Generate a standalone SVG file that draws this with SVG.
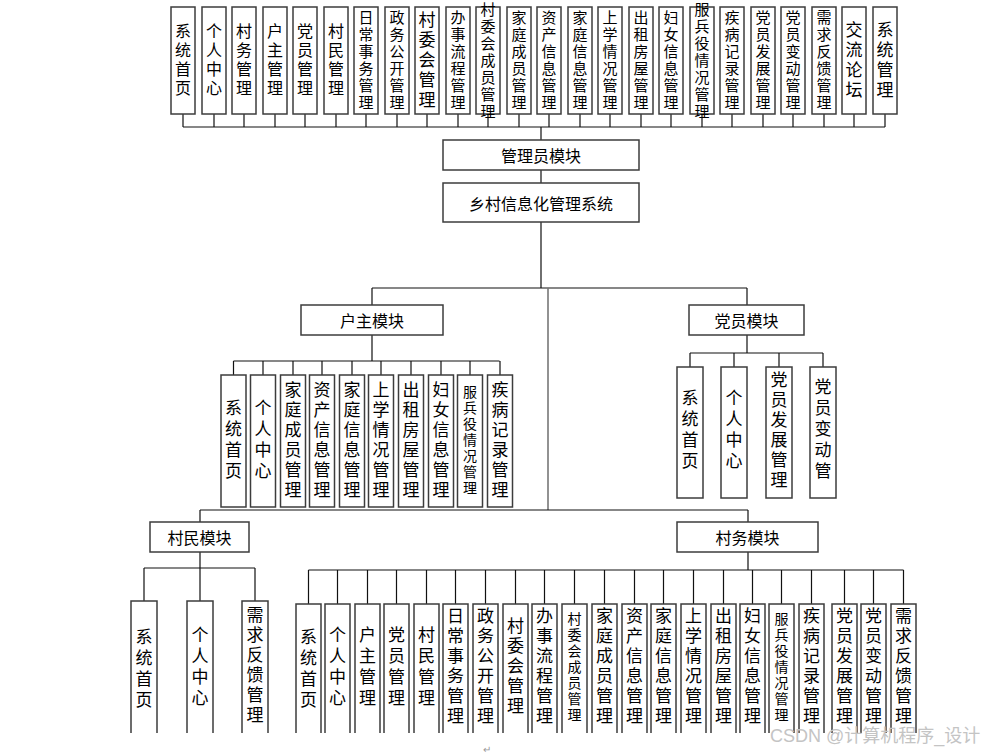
<svg xmlns="http://www.w3.org/2000/svg" width="986" height="755" viewBox="0 0 986 755">
<style>
.b{fill:#fff;stroke:#3c3c3c;stroke-width:1.5}
.o{fill:#fff;stroke:#3c3c3c;stroke-width:1.5}
.l{stroke:#111;stroke-width:1.2;fill:none}
.g{stroke:#777;stroke-width:1.6;fill:none}
text{font-family:"Noto Sans CJK SC","Noto Sans",sans-serif;fill:#000}
.h{font-size:16px;text-anchor:middle;dominant-baseline:central}
.v{writing-mode:vertical-rl;text-anchor:middle}
.a4{font-size:16px;letter-spacing:3px}
.a5{font-size:17px;letter-spacing:3px}
.a6{font-size:15px;letter-spacing:2px}
.a7{font-size:15px;letter-spacing:2px}
.m4{font-size:17px;letter-spacing:4px}
.m6{font-size:17px;letter-spacing:3px}
.m5{font-size:17px;letter-spacing:3px}
.m7{font-size:14px;letter-spacing:2px}
</style>
<rect width="986" height="755" fill="#fff"/>
<g id="connectors">
<path class="l" d="M183 114V127M214 114V127M244 114V127M275 114V127M305 114V127M336 114V127M366 114V127M397 114V127M427 114V127M458 114V127M488 114V127M519 114V127M549 114V127M580 114V127M610 114V127M641 114V127M671 114V127M702 114V127M732 114V127M763 114V127M793 114V127M824 114V127M854 114V127M885 114V127M183 127H885M541 127V140M541 170V183M541 222V288M372 288H747M372 288V305M747 288V305"/>
<path class="g" d="M548 288V510"/>
<path class="l" d="M372 335V361M233.5 361H499.5M233.5 361V375M263 361V375M293 361V375M322 361V375M352 361V375M381 361V375M411 361V375M441 361V375M470 361V375M500 361V375"/>
<path class="l" d="M747 335V353M690 353H823M690 353V367M734 353V367M779 353V367M823 353V367"/>
<path class="l" d="M200 510H748M200 510V522M748 510V522M200 552V568M144 568H255M144 568V601M200 568V601M255 568V601"/>
<path class="l" d="M748 552V570M308.5 570H903.5M308.5 570V604M337.5 570V604M367.5 570V604M396.5 570V604M426.5 570V604M455.5 570V604M485.5 570V604M515.5 570V604M544.5 570V604M574.5 570V604M604.5 570V604M634.5 570V604M663.5 570V604M693.5 570V604M723.5 570V604M752.5 570V604M781.5 570V604M811.5 570V604M844.5 570V604M873.5 570V604M903.5 570V604"/>
</g>
<g id="admin-children">
<g id="t1"><rect class="b" x="171" y="7" width="24" height="107"/><text class="v a4" x="183" y="61">系统首页</text></g>
<g id="t2"><rect class="b" x="202" y="7" width="24" height="107"/><text class="v a4" x="214" y="61">个人中心</text></g>
<g id="t3"><rect class="b" x="232" y="7" width="24" height="107"/><text class="v a4" x="244" y="61">村务管理</text></g>
<g id="t4"><rect class="b" x="263" y="7" width="24" height="107"/><text class="v a4" x="275" y="61">户主管理</text></g>
<g id="t5"><rect class="b" x="293" y="7" width="24" height="107"/><text class="v a4" x="305" y="61">党员管理</text></g>
<g id="t6"><rect class="b" x="324" y="7" width="24" height="107"/><text class="v a4" x="336" y="61">村民管理</text></g>
<g id="t7"><rect class="b" x="354" y="7" width="24" height="107"/><text class="v a6" x="366" y="61">日常事务管理</text></g>
<g id="t8"><rect class="b" x="385" y="7" width="24" height="107"/><text class="v a6" x="397" y="61">政务公开管理</text></g>
<g id="t9"><rect class="b" x="415" y="7" width="24" height="107"/><text class="v a5" x="427" y="61">村委会管理</text></g>
<g id="t10"><rect class="b" x="446" y="7" width="24" height="107"/><text class="v a6" x="458" y="61">办事流程管理</text></g>
<g id="t11"><rect class="b" x="476" y="7" width="24" height="107"/><text class="v a7" x="488" y="61">村委会成员管理</text></g>
<g id="t12"><rect class="b" x="507" y="7" width="24" height="107"/><text class="v a6" x="519" y="61">家庭成员管理</text></g>
<g id="t13"><rect class="b" x="537" y="7" width="24" height="107"/><text class="v a6" x="549" y="61">资产信息管理</text></g>
<g id="t14"><rect class="b" x="568" y="7" width="24" height="107"/><text class="v a6" x="580" y="61">家庭信息管理</text></g>
<g id="t15"><rect class="b" x="598" y="7" width="24" height="107"/><text class="v a6" x="610" y="61">上学情况管理</text></g>
<g id="t16"><rect class="b" x="629" y="7" width="24" height="107"/><text class="v a6" x="641" y="61">出租房屋管理</text></g>
<g id="t17"><rect class="b" x="659" y="7" width="24" height="107"/><text class="v a6" x="671" y="61">妇女信息管理</text></g>
<g id="t18"><rect class="b" x="690" y="7" width="24" height="107"/><text class="v a7" x="702" y="61">服兵役情况管理</text></g>
<g id="t19"><rect class="b" x="720" y="7" width="24" height="107"/><text class="v a6" x="732" y="61">疾病记录管理</text></g>
<g id="t20"><rect class="b" x="751" y="7" width="24" height="107"/><text class="v a6" x="763" y="61">党员发展管理</text></g>
<g id="t21"><rect class="b" x="781" y="7" width="24" height="107"/><text class="v a6" x="793" y="61">党员变动管理</text></g>
<g id="t22"><rect class="b" x="812" y="7" width="24" height="107"/><text class="v a6" x="824" y="61">需求反馈管理</text></g>
<g id="t23"><rect class="b" x="842" y="7" width="24" height="107"/><text class="v a5" x="854" y="61">交流论坛</text></g>
<g id="t24"><rect class="b" x="873" y="7" width="24" height="107"/><text class="v a5" x="885" y="61">系统管理</text></g>
</g>
<g id="admin"><rect class="b" x="443" y="140" width="196" height="30"/><text class="h" x="541" y="155">管理员模块</text></g>
<g id="system"><rect class="b" x="443" y="183" width="196" height="39"/><text class="h" x="541" y="202.5">乡村信息化管理系统</text></g>
<g id="huzhu"><rect class="b" x="301" y="305" width="142" height="30"/><text class="h" x="372" y="320">户主模块</text></g>
<g id="dangyuan"><rect class="b" x="689" y="305" width="115" height="30"/><text class="h" x="746.5" y="320">党员模块</text></g>
<g id="cunmin"><rect class="b" x="150" y="522" width="99" height="30"/><text class="h" x="199.5" y="537">村民模块</text></g>
<g id="cunwu"><rect class="b" x="677" y="522" width="141" height="30"/><text class="h" x="747.5" y="537">村务模块</text></g>
<g id="huzhu-children">
<g id="h1"><rect class="b" x="221" y="375" width="25" height="132"/><text class="v m4" x="233.5" y="441">系统首页</text></g>
<g id="h2"><rect class="b" x="250.5" y="375" width="25" height="132"/><text class="v m4" x="263" y="441">个人中心</text></g>
<g id="h3"><rect class="b" x="280.5" y="375" width="25" height="132"/><text class="v m6" x="293" y="441">家庭成员管理</text></g>
<g id="h4"><rect class="b" x="309.5" y="375" width="25" height="132"/><text class="v m6" x="322" y="441">资产信息管理</text></g>
<g id="h5"><rect class="b" x="339.5" y="375" width="25" height="132"/><text class="v m6" x="352" y="441">家庭信息管理</text></g>
<g id="h6"><rect class="b" x="368.5" y="375" width="25" height="132"/><text class="v m6" x="381" y="441">上学情况管理</text></g>
<g id="h7"><rect class="b" x="398.5" y="375" width="25" height="132"/><text class="v m6" x="411" y="441">出租房屋管理</text></g>
<g id="h8"><rect class="b" x="428.5" y="375" width="25" height="132"/><text class="v m6" x="441" y="441">妇女信息管理</text></g>
<g id="h9"><rect class="b" x="457.5" y="375" width="25" height="132"/><text class="v m7" x="470" y="441">服兵役情况管理</text></g>
<g id="h10"><rect class="b" x="487.5" y="375" width="25" height="132"/><text class="v m6" x="500" y="441">疾病记录管理</text></g>
</g>
<g id="dangyuan-children">
<g id="d1"><rect class="b" x="677" y="367" width="26" height="131"/><text class="v m4" x="690" y="431">系统首页</text></g>
<g id="d2"><rect class="b" x="721" y="367" width="26" height="131"/><text class="v m4" x="734" y="431">个人中心</text></g>
<g id="d3"><rect class="b" x="766" y="367" width="26" height="131"/><text class="v m6" x="779" y="431">党员发展管理</text></g>
<g id="d4"><rect class="b" x="810" y="367" width="26" height="131"/><text class="v m4" x="823" y="431">党员变动管</text></g>
</g>
<g id="cunmin-children">
<g id="c1"><path class="o" d="M131 733V601H157V733"/><text class="v m4" x="144" y="670">系统首页</text></g>
<g id="c2"><path class="o" d="M187 733V601H213V733"/><text class="v m4" x="200" y="668">个人中心</text></g>
<g id="c3"><path class="o" d="M242 733V601H268V733"/><text class="v m6" x="255" y="666">需求反馈管理</text></g>
</g>
<g id="cunwu-children">
<g id="w1"><path class="o" d="M296 733V604H321V733"/><text class="v m4" x="308.5" y="670">系统首页</text></g>
<g id="w2"><path class="o" d="M325 733V604H350V733"/><text class="v m4" x="337.5" y="668">个人中心</text></g>
<g id="w3"><path class="o" d="M355 733V604H380V733"/><text class="v m4" x="367.5" y="668">户主管理</text></g>
<g id="w4"><path class="o" d="M384 733V604H409V733"/><text class="v m4" x="396.5" y="668">党员管理</text></g>
<g id="w5"><path class="o" d="M414 733V604H439V733"/><text class="v m4" x="426.5" y="668">村民管理</text></g>
<g id="w6"><path class="o" d="M443 733V604H468V733"/><text class="v m6" x="455.5" y="667">日常事务管理</text></g>
<g id="w7"><path class="o" d="M473 733V604H498V733"/><text class="v m6" x="485.5" y="667">政务公开管理</text></g>
<g id="w8"><path class="o" d="M503 733V604H528V733"/><text class="v m5" x="515.5" y="667">村委会管理</text></g>
<g id="w9"><path class="o" d="M532 733V604H557V733"/><text class="v m6" x="544.5" y="667">办事流程管理</text></g>
<g id="w10"><path class="o" d="M562 733V604H587V733"/><text class="v m7" x="574.5" y="668">村委会成员管理</text></g>
<g id="w11"><path class="o" d="M592 733V604H617V733"/><text class="v m6" x="604.5" y="667">家庭成员管理</text></g>
<g id="w12"><path class="o" d="M622 733V604H647V733"/><text class="v m6" x="634.5" y="667">资产信息管理</text></g>
<g id="w13"><path class="o" d="M651 733V604H676V733"/><text class="v m6" x="663.5" y="667">家庭信息管理</text></g>
<g id="w14"><path class="o" d="M681 733V604H706V733"/><text class="v m6" x="693.5" y="667">上学情况管理</text></g>
<g id="w15"><path class="o" d="M711 733V604H736V733"/><text class="v m6" x="723.5" y="667">出租房屋管理</text></g>
<g id="w16"><path class="o" d="M740 733V604H765V733"/><text class="v m6" x="752.5" y="667">妇女信息管理</text></g>
<g id="w17"><path class="o" d="M769 733V604H794V733"/><text class="v m7" x="781.5" y="668">服兵役情况管理</text></g>
<g id="w18"><path class="o" d="M799 733V604H824V733"/><text class="v m6" x="811.5" y="667">疾病记录管理</text></g>
<g id="w19"><path class="o" d="M832 733V604H857V733"/><text class="v m6" x="844.5" y="667">党员发展管理</text></g>
<g id="w20"><path class="o" d="M861 733V604H886V733"/><text class="v m6" x="873.5" y="667">党员变动管理</text></g>
<g id="w21"><path class="o" d="M891 733V604H916V733"/><text class="v m6" x="903.5" y="667">需求反馈管理</text></g>
</g>
<text x="483" y="753" style="font-size:10px;fill:#999">↵</text>
<text x="770" y="742" style="font-size:18px;fill:#c4c4c4;font-family:'Liberation Sans','Noto Sans CJK SC',sans-serif">CSDN @计算机程序_设计</text>
</svg>
